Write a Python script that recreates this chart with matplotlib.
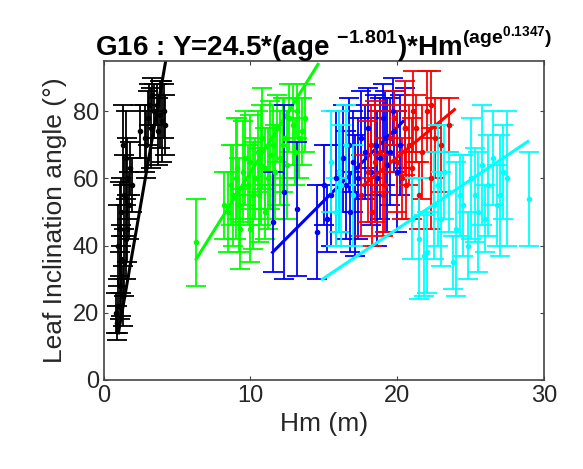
import matplotlib
matplotlib.use("Agg")
import matplotlib.pyplot as plt
import numpy as np

# === dati (Hm, media, semi-ampiezza barra)
black_hm = [0.9, 1.0, 1.1, 1.2, 1.3, 1.4, 1.5, 1.6, 1.0, 1.2, 1.4, 1.6, 1.8, 1.3, 1.5, 2.8, 3.0, 3.2, 3.4, 3.6, 3.8, 4.0, 3.3, 4.2,
            0.8, 1.1, 1.7, 2.5, 2.9, 3.1, 3.7, 4.1, 1.9, 1.2]
black_y = [17, 22, 28, 31, 25, 35, 42, 45, 40, 50, 55, 60, 63, 70, 66, 72, 78, 75, 80, 82, 79, 77, 85, 76,
           20, 45, 52, 74, 70, 82, 74, 80, 58, 36]
black_err = [5, 8, 10, 12, 9, 10, 12, 10, 12, 10, 12, 12, 8, 12, 14, 10, 8, 12, 8, 6, 10, 12, 5, 9,
             6, 14, 10, 8, 10, 6, 10, 8, 8, 10]

green_hm = [6.3, 8.5, 8.8, 9.0, 9.3, 9.5, 9.8, 10.0, 10.2, 10.5, 10.8, 11.0, 11.2, 11.5, 11.8, 12.0, 12.3, 12.6, 12.9, 13.2, 13.5, 10.0, 11.0, 13.0,
            8.2, 8.7, 9.1, 9.6, 10.3, 10.7, 11.3, 11.7, 12.2, 12.5, 13.3, 13.7, 9.2, 10.6]
green_y = [41, 50, 55, 60, 45, 62, 58, 65, 55, 68, 72, 63, 60, 70, 75, 66, 72, 78, 76, 80, 74, 45, 50, 68,
           52, 58, 63, 66, 60, 64, 67, 62, 70, 64, 72, 78, 52, 55]
green_err = [13, 12, 15, 18, 12, 15, 12, 14, 16, 12, 15, 12, 15, 12, 10, 14, 12, 10, 12, 8, 10, 10, 8, 10,
             10, 12, 15, 14, 12, 18, 16, 14, 14, 16, 12, 10, 14, 14]

blue_hm = [11.5, 12.3, 13.2, 14.5, 15.5, 16.0, 16.5, 17.0, 17.3, 17.8, 18.2, 18.5, 18.8, 19.2, 19.5, 19.8, 20.2, 20.5, 16.8, 15.2, 19.0,
           15.8, 16.3, 16.7, 17.5, 18.0, 18.6, 19.3, 19.7, 20.0, 17.1, 15.0]
blue_y = [47, 56, 51, 44, 55, 62, 58, 65, 60, 68, 62, 70, 66, 72, 68, 74, 70, 75, 50, 48, 78,
          60, 66, 70, 72, 75, 60, 64, 80, 62, 55, 58]
blue_err = [15, 26, 20, 14, 15, 18, 16, 15, 18, 14, 16, 15, 18, 14, 16, 12, 15, 12, 12, 10, 10,
            20, 16, 14, 14, 12, 20, 20, 10, 18, 18, 12]

red_hm = [17.5, 18.0, 18.3, 18.8, 19.2, 19.5, 20.0, 20.3, 20.8, 21.0, 21.3, 21.7, 22.0, 22.3, 22.6, 23.5, 21.5, 19.8,
          18.5, 19.0, 20.5, 21.1, 22.3, 23.0, 20.6, 18.2]
red_y = [55, 62, 50, 68, 58, 72, 65, 60, 70, 63, 75, 68, 80, 60, 72, 76, 55, 78,
         65, 55, 75, 80, 82, 70, 58, 70]
red_err = [12, 15, 10, 12, 14, 10, 15, 12, 12, 15, 10, 14, 12, 15, 12, 8, 10, 8,
           18, 12, 14, 12, 10, 14, 10, 12]

cyan_hm = [15.5, 16.0, 16.5, 15.8, 17.0, 21.5, 22.0, 22.5, 23.0, 23.5, 24.0, 24.5, 25.0, 25.3, 25.8, 26.2, 26.8, 27.2, 27.5, 29.0, 23.8, 24.8, 26.0, 21.8,
           22.8, 23.2, 24.3, 25.5, 26.5, 27.0, 16.2, 21.0]
cyan_y = [65, 62, 70, 50, 55, 42, 38, 52, 48, 56, 45, 52, 60, 55, 64, 58, 52, 62, 60, 54, 35, 40, 48, 37,
          58, 62, 55, 50, 66, 55, 58, 48]
cyan_err = [15, 18, 12, 10, 15, 18, 12, 16, 14, 12, 20, 15, 18, 14, 18, 15, 12, 14, 20, 14, 8, 10, 10, 12,
            18, 14, 12, 18, 14, 18, 18, 12]

# estremi delle rette di fit
black_fit_hm = [1.0, 4.3]
black_fit_y = [14, 97]
green_fit_hm = [6.3, 14.6]
green_fit_y = [36, 94]
blue_fit_hm = [11.5, 20.4]
blue_fit_y = [38, 77]
red_fit_hm = [17.7, 23.9]
red_fit_y = [58, 80.5]
cyan_fit_hm = [14.9, 28.9]
cyan_fit_y = [30, 71]

gruppi = [
    (black_hm, black_y, black_err, black_fit_hm, black_fit_y, "black"),
    (green_hm, green_y, green_err, green_fit_hm, green_fit_y, "#00ff00"),
    (blue_hm, blue_y, blue_err, blue_fit_hm, blue_fit_y, "#0000ff"),
    (red_hm, red_y, red_err, red_fit_hm, red_fit_y, "#ff0000"),
    (cyan_hm, cyan_y, cyan_err, cyan_fit_hm, cyan_fit_y, "#00ffff"),
]

plt.rcParams["font.family"] = ["Liberation Sans", "DejaVu Sans"]
plt.rcParams["mathtext.fontset"] = "custom"
plt.rcParams["mathtext.rm"] = "Liberation Sans"
plt.rcParams["mathtext.bf"] = "Liberation Sans:bold"

fig = plt.figure(figsize=(5.83, 4.69), dpi=100)
ax = fig.add_axes([0.178, 0.19, 0.755, 0.68])

for hm, y, err, fhm, fy, col in gruppi:
    ax.errorbar(hm, y, yerr=err, fmt="o", color=col, ms=3, capsize=7.5, elinewidth=1.3, capthick=1.3)
    ax.plot(fhm, fy, color=col, linewidth=2.2)

ax.set_xlim(0, 30)
ax.set_ylim(0, 95)
ax.set_xticks([0, 10, 20, 30])
ax.set_yticks([0, 20, 40, 60, 80])
ax.tick_params(labelsize=17, direction="in", length=3, top=True, right=True,
               labeltop=False, labelright=False, labelcolor="#262626", color="#444444")
for s in ax.spines.values():
    s.set_color("#444444")
    s.set_linewidth(1.2)
ax.set_xlabel("Hm (m)", fontsize=19, color="#262626")
ax.set_ylabel("Leaf Inclination angle (°)", fontsize=19, color="#262626")
ax.set_title(r"G16 : Y=24.5*(age $^{\mathbf{-1.801}}$)*Hm$^{\mathbf{(age}^{\mathbf{0.1347}}\mathbf{)}}$",
             fontsize=20, fontweight="bold", pad=4)

fig.savefig("out.png", dpi=100)
